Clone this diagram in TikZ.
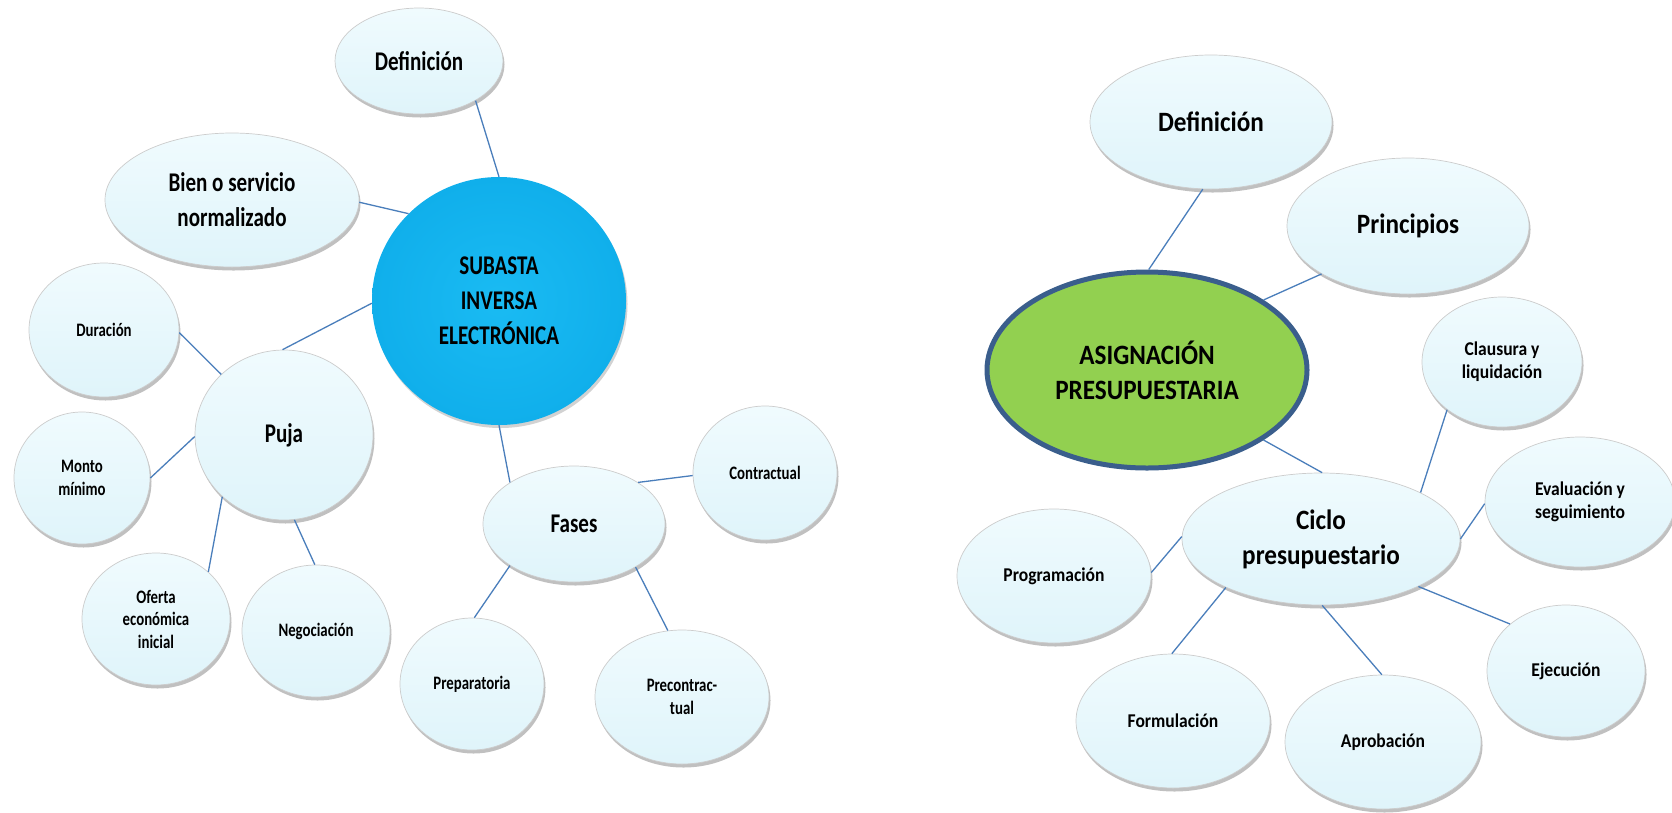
\documentclass[tikz,border=0pt]{standalone}
\usepackage{fontspec}
\newfontfamily\lfont{Carlito}[FakeStretch=0.78]
\newfontfamily\rfont{Carlito}[FakeStretch=0.9]
\usetikzlibrary{shapes.geometric,shadows}
\definecolor{bub}{HTML}{DFF4FA}
\definecolor{bubtop}{HTML}{F0FBFE}
\definecolor{conn}{HTML}{4A7EBB}
\definecolor{subblue}{HTML}{1ABBF3}
\definecolor{subedge}{HTML}{10AFEB}
\definecolor{asggreen}{HTML}{92D050}
\definecolor{asgedge}{HTML}{3A5E8C}
\newcommand\fLL{\lfont\bfseries\fontsize{27}{35}\selectfont}
\newcommand\fLS{\lfont\bfseries\fontsize{19}{22.5}\selectfont}
\newcommand\fRL{\rfont\bfseries\fontsize{28}{35}\selectfont}
\newcommand\fRS{\rfont\bfseries\fontsize{19.5}{23}\selectfont}
\tikzset{
  bubble/.style={ellipse, inner sep=0pt, align=center, draw=gray!40, line width=0.7pt,
    top color=bubtop, bottom color=bub,
    drop shadow={shadow xshift=1.5pt, shadow yshift=-3.5pt, opacity=0.35, fill=black!70}},
  subst/.style={ellipse, inner sep=0pt, align=center, inner color=subblue, outer color=subedge,
    drop shadow={shadow xshift=1.5pt, shadow yshift=-3pt, opacity=0.25, fill=black!70}},
  asgst/.style={ellipse, inner sep=0pt, align=center, fill=asggreen, draw=asgedge, line width=5pt},
  conn/.style={draw=conn, line width=1.3pt},
  sz/.style 2 args={minimum width=#1pt, minimum height=#2pt}
}
\begin{document}
\begin{tikzpicture}[x=1pt, y=-1pt]
\useasboundingbox (0,0) rectangle (1672,812);
\fill[white] (0,0) rectangle (1672,812);

% left map
\node[bubble, sz={168}{106}, font=\fLL] (def1) at (419,61) {Definición};
\node[bubble, sz={254}{134}, font=\fLL] (bien) at (232,200) {Bien o servicio\\normalizado};
\node[subst, sz={254}{248}, font=\fLL] (sub) at (499,301) {SUBASTA\\INVERSA\\ELECTRÓNICA};
\node[bubble, sz={150}{134}, font=\fLS] (dur) at (104,330) {Duración};
\node[bubble, sz={178}{170}, font=\fLL] (puja) at (284,435) {Puja};
\node[bubble, sz={136}{132}, font=\fLS] (monto) at (82,478) {Monto\\mínimo};
\node[bubble, sz={148}{132}, font=\fLS] (oferta) at (156,619) {Oferta\\económica\\inicial};
\node[bubble, sz={148}{132}, font=\fLS] (nego) at (316,631) {Negociación};
\node[bubble, sz={182}{116}, font=\fLL] (fases) at (574,524) {Fases};
\node[bubble, sz={144}{134}, font=\fLS] (contr) at (765,473) {Contractual};
\node[bubble, sz={144}{132}, font=\fLS] (prep) at (472,684) {Preparatoria};
\node[bubble, sz={174}{134}, font=\fLS] (precon) at (682,697) {Precontrac-\\tual};

% right map
\node[bubble, sz={242}{134}, font=\fRL] (def2) at (1211,122) {Definición};
\node[bubble, sz={242}{136}, font=\fRL] (prin) at (1408,226) {Principios};
\node[asgst, sz={320}{196}, font=\fRL] (asig) at (1147,370) {ASIGNACIÓN\\PRESUPUESTARIA};
\node[bubble, sz={278}{132}, font=\fRL] (ciclo) at (1321,539) {Ciclo\\presupuestario};
\node[bubble, sz={160}{130}, font=\fRS] (claus) at (1502,362) {Clausura y\\liquidación};
\node[bubble, sz={190}{130}, font=\fRS] (eval) at (1580,502) {Evaluación y\\seguimiento};
\node[bubble, sz={194}{134}, font=\fRS] (prog) at (1054,576) {Programación};
\node[bubble, sz={194}{134}, font=\fRS] (form) at (1173,721) {Formulación};
\node[bubble, sz={196}{134}, font=\fRS] (aprob) at (1383,742) {Aprobación};
\node[bubble, sz={158}{132}, font=\fRS] (ejec) at (1566,671) {Ejecución};

% connectors left
\draw[conn] (def1.-35) -- (sub.90);
\draw[conn] (bien.-1) -- (sub.136);
\draw[conn] (puja.91) -- (sub.181);
\draw[conn] (dur.-2) -- (puja.136);
\draw[conn] (monto.0) -- (puja.181);
\draw[conn] (oferta.42) -- (puja.225);
\draw[conn] (nego.91) -- (puja.-83);
\draw[conn] (sub.-90) -- (fases.147);
\draw[conn] (fases.33) -- (contr.182);
\draw[conn] (fases.213) -- (prep.88);
\draw[conn] (fases.-35) -- (precon.102);

% connectors right
\draw[conn] (def2.-97) -- (asig.89);
\draw[conn] (prin.209) -- (asig.31);
\draw[conn] (asig.-31) -- (ciclo.89);
\draw[conn] (prog.2) -- (ciclo.179);
\draw[conn] (form.91) -- (ciclo.207);
\draw[conn] (aprob.91) -- (ciclo.-89);
\draw[conn] (ejec.140) -- (ciclo.-26);
\draw[conn] (eval.181) -- (ciclo.0);
\draw[conn] (claus.221) -- (ciclo.25);
\end{tikzpicture}
\end{document}
